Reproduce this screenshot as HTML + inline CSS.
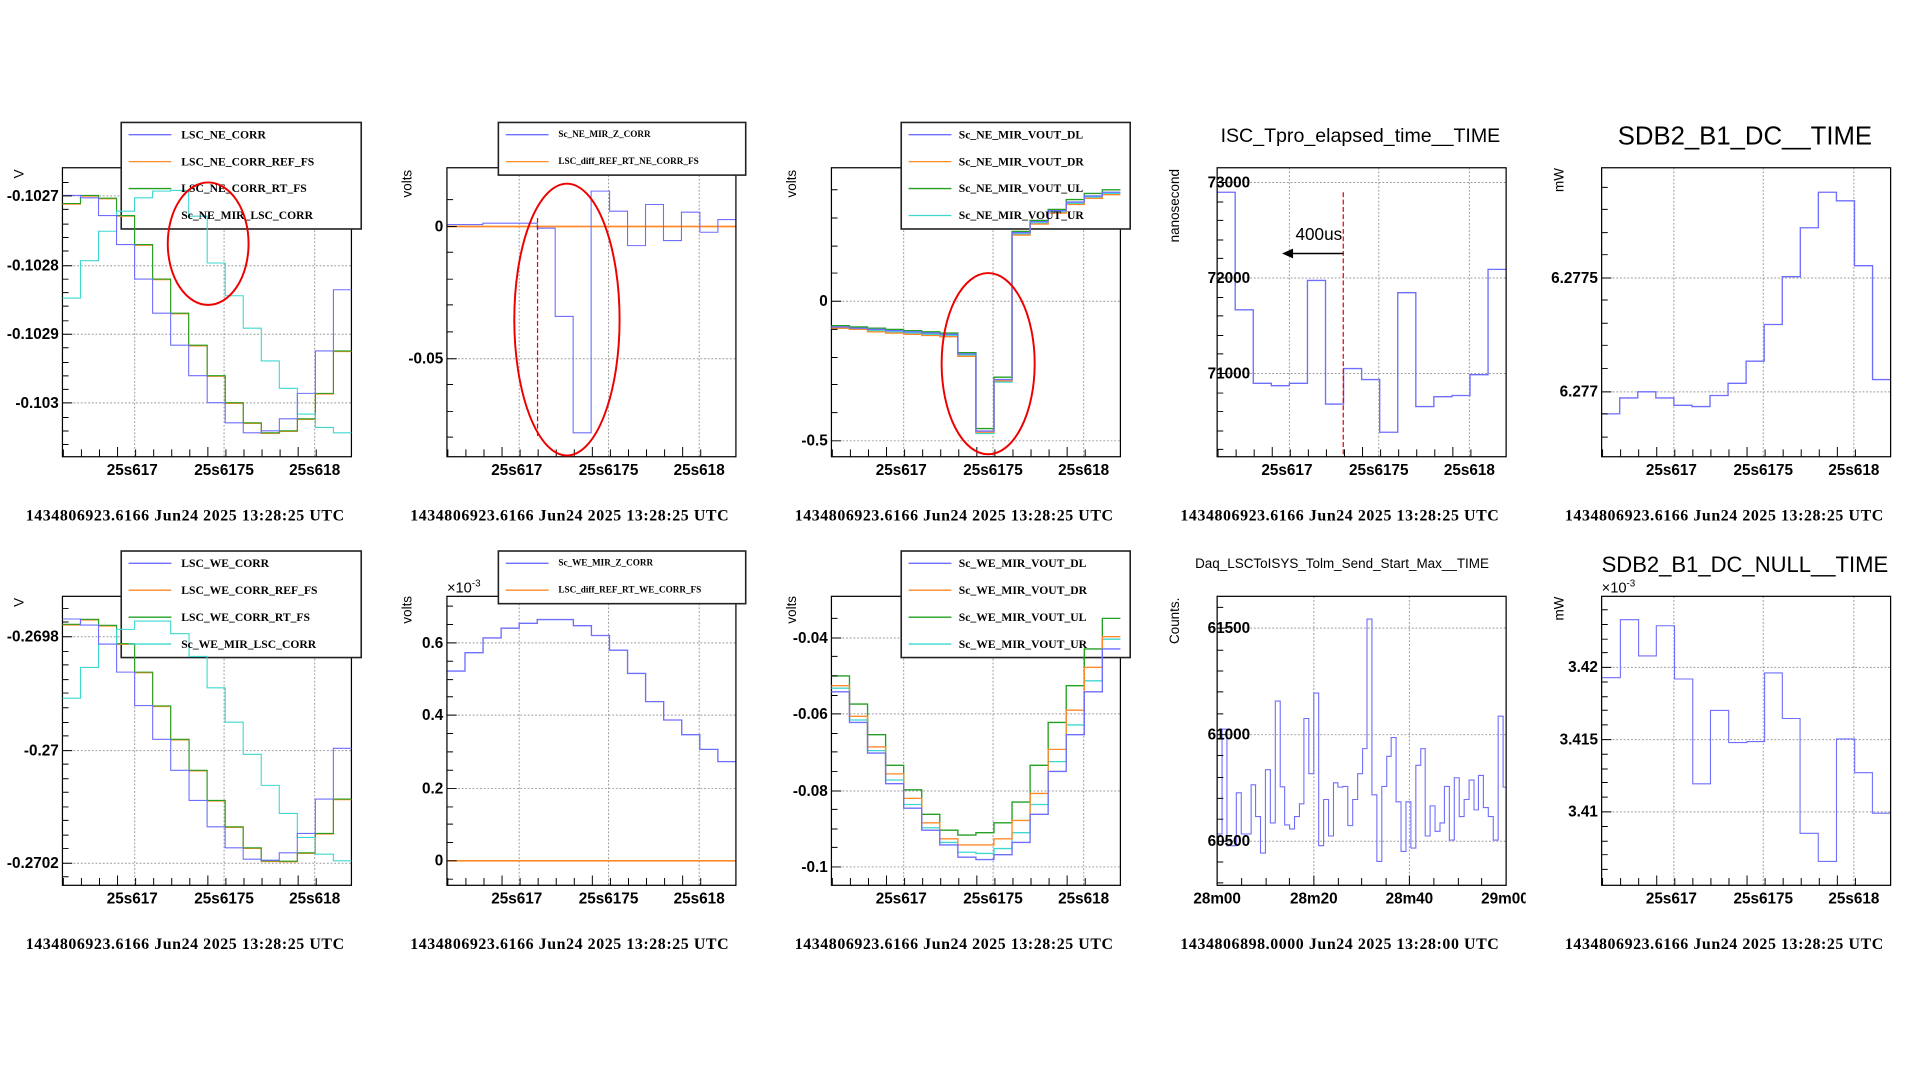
<!DOCTYPE html>
<html><head><meta charset="utf-8"><style>
html,body{margin:0;padding:0;background:#fff;width:1920px;height:1080px;overflow:hidden}
svg{display:block}
.ax{font-family:"Liberation Sans",sans-serif;font-weight:bold;font-size:12.5px;fill:#000}
.yl{font-family:"Liberation Sans",sans-serif;font-size:11px;fill:#000}
.ds{font-family:"Liberation Serif",serif;font-weight:bold;font-size:13px;fill:#000}
.lg{font-family:"Liberation Serif",serif;font-weight:bold;font-size:9.5px;fill:#000}
.lgs{font-family:"Liberation Serif",serif;font-weight:bold;font-size:7.5px;fill:#000}
.fr{fill:none;stroke:#000;stroke-width:1}
.lb{fill:#fff;stroke:#222;stroke-width:1.3}
.gd{stroke:#999;stroke-width:.8;stroke-dasharray:1.5 1.5}
.b{fill:none;stroke:#6f6fff;stroke-width:1.1}
.o{fill:none;stroke:#ff8a2a;stroke-width:1.1}
.g{fill:none;stroke:#23a023;stroke-width:1.1}
.c{fill:none;stroke:#3ed8d0;stroke-width:1.1}
.ns{vector-effect:non-scaling-stroke}
.tk{stroke:#000;stroke-width:.8}
</style></head><body>
<svg width="1920" height="1080" viewBox="0 0 1568 882" xmlns="http://www.w3.org/2000/svg">
<defs>
<g id="bt"><path class="tk" d="M65.75 0v-6M80.5 0v-6M95.25 0v-6M110 0v-8M124.75 0v-6M139.5 0v-6M154.25 0v-6M169 0v-6M183.75 0v-8M198.5 0v-6M213.25 0v-6M228 0v-6M242.75 0v-6M257.5 0v-8M272.25 0v-6"/></g>
</defs>

<!-- ============ ROW 1 ============ -->
<!-- Panel 1 -->
<line class="gd" x1="110" y1="137" x2="110" y2="373"/><line class="gd" x1="183" y1="137" x2="183" y2="373"/><line class="gd" x1="257" y1="137" x2="257" y2="373"/>
<line class="gd" x1="51" y1="160" x2="287" y2="160"/><line class="gd" x1="51" y1="217" x2="287" y2="217"/><line class="gd" x1="51" y1="273" x2="287" y2="273"/><line class="gd" x1="51" y1="329" x2="287" y2="329"/>
<rect class="fr" x="51" y="137" width="236" height="236"/>
<rect class="lb" x="99" y="100" width="196" height="87"/>
<g transform="translate(-0.74,89.2) scale(0.398,0.273)">
<path class="o ns" d="M130 284 H167 V260 H204 V268 H241 V320 H278 V407 H315 V510 H352 V612 H389 V708 H427 V799 H464 V880 H501 V940 H538 V970 H575 V964 H612 V928 H649 V852 H686 V725 H723"/>
<path class="g ns" d="M130 282 H167 V258 H204 V266 H241 V318 H278 V405 H315 V508 H352 V610 H389 V706 H427 V797 H464 V878 H501 V938 H538 V968 H575 V962 H612 V926 H649 V850 H686 V723 H723"/>
<path class="c ns" d="M130 565 H167 V453 H204 V365 H241 V305 H278 V265 H315 V245 H352 V243 H389 V320 H427 V460 H464 V558 H501 V655 H538 V753 H575 V835 H612 V912 H649 V952 H686 V968 H723"/>
<path class="b ns" d="M130 258 H167 V265 H204 V318 H241 V405 H278 V508 H315 V610 H352 V706 H389 V797 H427 V878 H464 V938 H501 V968 H538 V962 H575 V926 H612 V850 H649 V723 H686 V540 H723"/>
</g>
<use href="#bt" transform="translate(-14,373)"/>
<path class="tk" d="M51 149h5M51 160h8M51 171h5M51 183h5M51 194h5M51 205h5M51 217h8M51 228h5M51 239h5M51 250h5M51 262h5M51 273h8M51 284h5M51 296h5M51 307h5M51 318h5M51 329h8M51 341h5M51 352h5M51 363h5"/>
<text class="ax" x="48" y="164" text-anchor="end">-0.1027</text>
<text class="ax" x="48" y="221" text-anchor="end">-0.1028</text>
<text class="ax" x="48" y="277" text-anchor="end">-0.1029</text>
<text class="ax" x="48" y="333" text-anchor="end">-0.103</text>
<text class="yl" transform="translate(19,142) rotate(-90)" text-anchor="middle">V</text>
<text class="ax" x="108" y="388" text-anchor="middle">25s617</text><text class="ax" x="183" y="388" text-anchor="middle">25s6175</text><text class="ax" x="257" y="388" text-anchor="middle">25s618</text>
<line class="b" x1="105" y1="110" x2="140" y2="110"/><text class="lg" x="148" y="113">LSC_NE_CORR</text>
<line class="o" x1="105" y1="132" x2="140" y2="132"/><text class="lg" x="148" y="135">LSC_NE_CORR_REF_FS</text>
<line class="g" x1="105" y1="154" x2="140" y2="154"/><text class="lg" x="148" y="157">LSC_NE_CORR_RT_FS</text>
<text class="lg" x="148" y="179">Sc_NE_MIR_LSC_CORR</text>
<ellipse cx="170" cy="199" rx="33" ry="50" fill="none" stroke="#e00" stroke-width="1.6"/>
<text class="ds" x="151" y="425" text-anchor="middle" textLength="260">1434806923.6166 Jun24 2025 13:28:25 UTC</text>

<!-- Panel 2 -->
<line class="gd" x1="424" y1="137" x2="424" y2="373"/><line class="gd" x1="497" y1="137" x2="497" y2="373"/><line class="gd" x1="571" y1="137" x2="571" y2="373"/>
<line class="gd" x1="365" y1="185" x2="601" y2="185"/><line class="gd" x1="365" y1="293" x2="601" y2="293"/>
<line x1="365" y1="185" x2="601" y2="185" stroke="#ff8a2a" stroke-width="1.4"/>
<g transform="translate(-0.7,89.2) scale(0.3966,0.273)">
<path class="b ns" d="M922 345 H996 V341 H1108 V356 H1145 V620 H1182 V968 H1219 V245 H1257 V305 H1294 V408 H1331 V285 H1368 V393 H1405 V308 H1443 V368 H1480 V330 H1517"/>
</g>
<line x1="439" y1="178" x2="439" y2="357" stroke="#e00" stroke-width="1" stroke-dasharray="4 2"/>
<rect class="fr" x="365" y="137" width="236" height="236"/>
<use href="#bt" transform="translate(300,373)"/>
<path class="tk" d="M365 163h5M365 185h8M365 206h5M365 228h5M365 249h5M365 271h5M365 293h8M365 314h5M365 336h5M365 357h5"/>
<text class="ax" x="362" y="189" text-anchor="end">0</text>
<text class="ax" x="362" y="297" text-anchor="end">-0.05</text>
<text class="yl" transform="translate(336,150) rotate(-90)" text-anchor="middle">volts</text>
<text class="ax" x="422" y="388" text-anchor="middle">25s617</text><text class="ax" x="497" y="388" text-anchor="middle">25s6175</text><text class="ax" x="571" y="388" text-anchor="middle">25s618</text>
<rect class="lb" x="407" y="100" width="202" height="43"/>
<line class="b" x1="413" y1="110" x2="448" y2="110"/><text class="lgs" x="456" y="112">Sc_NE_MIR_Z_CORR</text>
<line class="o" x1="413" y1="132" x2="448" y2="132"/><text class="lgs" x="456" y="134">LSC_diff_REF_RT_NE_CORR_FS</text>
<ellipse cx="463" cy="261" rx="43" ry="111" fill="none" stroke="#e00" stroke-width="1.6"/>
<text class="ds" x="465" y="425" text-anchor="middle" textLength="260">1434806923.6166 Jun24 2025 13:28:25 UTC</text>

<!-- Panel 3 -->
<line class="gd" x1="738" y1="137" x2="738" y2="373"/><line class="gd" x1="811" y1="137" x2="811" y2="373"/><line class="gd" x1="885" y1="137" x2="885" y2="373"/>
<line class="gd" x1="679" y1="246" x2="915" y2="246"/><line class="gd" x1="679" y1="360" x2="915" y2="360"/>
<rect class="fr" x="679" y="137" width="236" height="236"/>
<rect class="lb" x="736" y="100" width="187" height="87"/>
<path class="c" d="M679 268 H693.75 V269 H708.5 V270 H723.25 V271 H738 V272 H752.75 V273 H767.5 V274 H782.25 V290 H797 V354 H811.75 V312 H826.5 V191 H841.25 V182 H856 V173 H870.75 V166 H885.5 V161 H900.25 V158 H915"/>
<path class="g" d="M679 266 H693.75 V267 H708.5 V268 H723.25 V269 H738 V270 H752.75 V271 H767.5 V272 H782.25 V288 H797 V350 H811.75 V308 H826.5 V189 H841.25 V180 H856 V171 H870.75 V163 H885.5 V158 H900.25 V155 H915"/>
<path class="o" d="M679 268 H693.75 V269 H708.5 V271 H723.25 V272 H738 V273 H752.75 V274 H767.5 V275 H782.25 V291 H797 V353 H811.75 V311 H826.5 V192 H841.25 V183 H856 V174 H870.75 V167 H885.5 V162 H900.25 V159 H915"/>
<path class="b" d="M679 267 H693.75 V268 H708.5 V269 H723.25 V270 H738 V271 H752.75 V272 H767.5 V273 H782.25 V289 H797 V352 H811.75 V310 H826.5 V190 H841.25 V181 H856 V172 H870.75 V165 H885.5 V160 H900.25 V157 H915"/>
<use href="#bt" transform="translate(614,373)"/>
<path class="tk" d="M679 155h5M679 178h5M679 201h5M679 223h5M679 246h8M679 269h5M679 292h5M679 314h5M679 337h5M679 360h8"/>
<text class="ax" x="676" y="250" text-anchor="end">0</text>
<text class="ax" x="676" y="364" text-anchor="end">-0.5</text>
<text class="yl" transform="translate(650,150) rotate(-90)" text-anchor="middle">volts</text>
<text class="ax" x="736" y="388" text-anchor="middle">25s617</text><text class="ax" x="811" y="388" text-anchor="middle">25s6175</text><text class="ax" x="885" y="388" text-anchor="middle">25s618</text>
<line class="b" x1="742" y1="110" x2="777" y2="110"/><text class="lg" x="783" y="113">Sc_NE_MIR_VOUT_DL</text>
<line class="o" x1="742" y1="132" x2="777" y2="132"/><text class="lg" x="783" y="135">Sc_NE_MIR_VOUT_DR</text>
<line class="g" x1="742" y1="154" x2="777" y2="154"/><text class="lg" x="783" y="157">Sc_NE_MIR_VOUT_UL</text>
<line class="c" x1="742" y1="176" x2="777" y2="176"/><text class="lg" x="783" y="179">Sc_NE_MIR_VOUT_UR</text>
<ellipse cx="807" cy="297" rx="38" ry="74" fill="none" stroke="#e00" stroke-width="1.6"/>
<text class="ds" x="779" y="425" text-anchor="middle" textLength="260">1434806923.6166 Jun24 2025 13:28:25 UTC</text>

<!-- Panel 4 -->
<text x="1111" y="116" text-anchor="middle" font-family="Liberation Sans,sans-serif" font-size="16">ISC_Tpro_elapsed_time__TIME</text>
<line class="gd" x1="1053" y1="137" x2="1053" y2="373"/><line class="gd" x1="1126" y1="137" x2="1126" y2="373"/><line class="gd" x1="1200" y1="137" x2="1200" y2="373"/>
<line class="gd" x1="994" y1="149" x2="1230" y2="149"/><line class="gd" x1="994" y1="227" x2="1230" y2="227"/><line class="gd" x1="994" y1="305" x2="1230" y2="305"/>
<path class="b" d="M994 157 H1008.75 V253 H1023.5 V313 H1038.25 V315 H1053 V313 H1067.75 V229 H1082.5 V330 H1097.25 V301 H1112 V310 H1126.75 V353 H1141.5 V239 H1156.25 V332 H1171 V324 H1185.75 V323 H1200.5 V306 H1215.25 V220 H1230"/>
<line x1="1097" y1="157" x2="1097" y2="373" stroke="#e00" stroke-width="1" stroke-dasharray="4 2"/>
<line x1="1097" y1="207" x2="1055" y2="207" stroke="#000" stroke-width="1.2"/><path d="M1047 207 l9 -4 v8z" fill="#000"/>
<text x="1058" y="196" font-family="Liberation Sans,sans-serif" font-size="14">400us</text>
<rect class="fr" x="994" y="137" width="236" height="236"/>
<use href="#bt" transform="translate(929,373)"/>
<path class="tk" d="M994 149h8M994 165h5M994 180h5M994 196h5M994 211h5M994 227h8M994 243h5M994 258h5M994 274h5M994 289h5M994 305h8M994 321h5M994 336h5M994 352h5M994 367h5"/>
<text class="ax" x="1021" y="153" text-anchor="end">73000</text>
<text class="ax" x="1021" y="231" text-anchor="end">72000</text>
<text class="ax" x="1021" y="309" text-anchor="end">71000</text>
<text class="yl" transform="translate(963,168) rotate(-90)" text-anchor="middle">nanosecond</text>
<text class="ax" x="1051" y="388" text-anchor="middle">25s617</text><text class="ax" x="1126" y="388" text-anchor="middle">25s6175</text><text class="ax" x="1200" y="388" text-anchor="middle">25s618</text>
<text class="ds" x="1094" y="425" text-anchor="middle" textLength="260">1434806923.6166 Jun24 2025 13:28:25 UTC</text>

<!-- Panel 5 -->
<text x="1425" y="118" text-anchor="middle" font-family="Liberation Sans,sans-serif" font-size="21">SDB2_B1_DC__TIME</text>
<line class="gd" x1="1367" y1="137" x2="1367" y2="373"/><line class="gd" x1="1440" y1="137" x2="1440" y2="373"/><line class="gd" x1="1514" y1="137" x2="1514" y2="373"/>
<line class="gd" x1="1308" y1="227" x2="1544" y2="227"/><line class="gd" x1="1308" y1="320" x2="1544" y2="320"/>
<path class="b" d="M1308 338 H1322.75 V325 H1337.5 V320 H1352.25 V325 H1367 V331 H1381.75 V332 H1396.5 V323 H1411.25 V313 H1426 V295 H1440.75 V265 H1455.5 V226 H1470.25 V186 H1485 V157 H1499.75 V164 H1514.5 V217 H1529.25 V310 H1544"/>
<rect class="fr" x="1308" y="137" width="236" height="236"/>
<use href="#bt" transform="translate(1243,373)"/>
<path class="tk" d="M1308 153h5M1308 171h5M1308 190h5M1308 208h5M1308 227h8M1308 245h5M1308 264h5M1308 282h5M1308 301h5M1308 320h8M1308 338h5M1308 357h5"/>
<text class="ax" x="1305" y="231" text-anchor="end">6.2775</text>
<text class="ax" x="1305" y="324" text-anchor="end">6.277</text>
<text class="yl" transform="translate(1277,147) rotate(-90)" text-anchor="middle">mW</text>
<text class="ax" x="1365" y="388" text-anchor="middle">25s617</text><text class="ax" x="1440" y="388" text-anchor="middle">25s6175</text><text class="ax" x="1514" y="388" text-anchor="middle">25s618</text>
<text class="ds" x="1408" y="425" text-anchor="middle" textLength="260">1434806923.6166 Jun24 2025 13:28:25 UTC</text>

<!-- ============ ROW 2 ============ -->
<!-- Panel 1 -->
<line class="gd" x1="110" y1="487" x2="110" y2="723"/><line class="gd" x1="183" y1="487" x2="183" y2="723"/><line class="gd" x1="257" y1="487" x2="257" y2="723"/>
<line class="gd" x1="51" y1="520" x2="287" y2="520"/><line class="gd" x1="51" y1="613" x2="287" y2="613"/><line class="gd" x1="51" y1="705" x2="287" y2="705"/>
<rect class="fr" x="51" y="487" width="236" height="236"/>
<rect class="lb" x="99" y="450" width="196" height="87"/>
<g transform="translate(0,440.6) scale(0.2728,0.2728)">
<path class="o ns" d="M187 256 H241 V241 H295 V259 H349 V314 H403 V399 H457 V500 H511 V600 H566 V693 H620 V783 H674 V862 H728 V925 H782 V964 H836 V965 H890 V940 H944 V882 H998 V779 H1052"/>
<path class="g ns" d="M187 254 H241 V239 H295 V257 H349 V312 H403 V397 H457 V498 H511 V598 H566 V691 H620 V781 H674 V860 H728 V923 H782 V962 H836 V963 H890 V938 H944 V880 H998 V777 H1052"/>
<path class="c ns" d="M187 475 H241 V383 H295 V313 H349 V269 H403 V244 H511 V282 H566 V350 H620 V444 H674 V547 H728 V643 H782 V736 H836 V820 H890 V892 H944 V942 H998 V962 H1052"/>
<path class="b ns" d="M187 238 H241 V256 H295 V313 H349 V397 H403 V497 H457 V598 H511 V691 H566 V781 H620 V860 H674 V923 H728 V957 H782 V960 H836 V938 H890 V880 H944 V777 H998 V625 H1052"/>
</g>
<use href="#bt" transform="translate(-14,723)"/>
<path class="tk" d="M51 497h5M51 508h5M51 520h8M51 532h5M51 543h5M51 555h5M51 566h5M51 578h5M51 590h5M51 601h5M51 613h8M51 624h5M51 636h5M51 647h5M51 659h5M51 670h5M51 682h5M51 693h5M51 705h8M51 716h5"/>
<text class="ax" x="48" y="524" text-anchor="end">-0.2698</text>
<text class="ax" x="48" y="617" text-anchor="end">-0.27</text>
<text class="ax" x="48" y="709" text-anchor="end">-0.2702</text>
<text class="yl" transform="translate(19,492) rotate(-90)" text-anchor="middle">V</text>
<text class="ax" x="108" y="738" text-anchor="middle">25s617</text><text class="ax" x="183" y="738" text-anchor="middle">25s6175</text><text class="ax" x="257" y="738" text-anchor="middle">25s618</text>
<line class="b" x1="105" y1="460" x2="140" y2="460"/><text class="lg" x="148" y="463">LSC_WE_CORR</text>
<line class="o" x1="105" y1="482" x2="140" y2="482"/><text class="lg" x="148" y="485">LSC_WE_CORR_REF_FS</text>
<line class="g" x1="105" y1="504" x2="140" y2="504"/><text class="lg" x="148" y="507">LSC_WE_CORR_RT_FS</text>
<line class="c" x1="105" y1="526" x2="140" y2="526"/><text class="lg" x="148" y="529">Sc_WE_MIR_LSC_CORR</text>
<text class="ds" x="151" y="775" text-anchor="middle" textLength="260">1434806923.6166 Jun24 2025 13:28:25 UTC</text>

<!-- Panel 2 -->
<line class="gd" x1="424" y1="487" x2="424" y2="723"/><line class="gd" x1="497" y1="487" x2="497" y2="723"/><line class="gd" x1="571" y1="487" x2="571" y2="723"/>
<line class="gd" x1="365" y1="525" x2="601" y2="525"/><line class="gd" x1="365" y1="584" x2="601" y2="584"/><line class="gd" x1="365" y1="644" x2="601" y2="644"/>
<line x1="365" y1="703" x2="601" y2="703" stroke="#ff8a2a" stroke-width="1.4"/>
<path class="b" d="M365 548 H379.75 V533 H394.5 V521 H409.25 V513 H424 V509 H438.75 V506 H453.5 V506 H468.25 V511 H483 V519 H497.75 V531 H512.5 V550 H527.25 V573 H542 V588 H556.75 V600 H571.5 V612 H586.25 V622 H601"/>
<rect class="fr" x="365" y="487" width="236" height="236"/>
<use href="#bt" transform="translate(300,723)"/>
<path class="tk" d="M365 495h5M365 510h5M365 525h8M365 540h5M365 555h5M365 569h5M365 584h8M365 599h5M365 614h5M365 629h5M365 644h8M365 659h5M365 673h5M365 688h5M365 703h8M365 718h5"/>
<text class="ax" x="362" y="529" text-anchor="end">0.6</text>
<text class="ax" x="362" y="588" text-anchor="end">0.4</text>
<text class="ax" x="362" y="648" text-anchor="end">0.2</text>
<text class="ax" x="362" y="707" text-anchor="end">0</text>
<text x="365" y="484" font-family="Liberation Sans,sans-serif" font-size="12">×10<tspan font-size="8" dy="-5">-3</tspan></text>
<text class="yl" transform="translate(336,498) rotate(-90)" text-anchor="middle">volts</text>
<text class="ax" x="422" y="738" text-anchor="middle">25s617</text><text class="ax" x="497" y="738" text-anchor="middle">25s6175</text><text class="ax" x="571" y="738" text-anchor="middle">25s618</text>
<rect class="lb" x="407" y="450" width="202" height="43"/>
<line class="b" x1="413" y1="460" x2="448" y2="460"/><text class="lgs" x="456" y="462">Sc_WE_MIR_Z_CORR</text>
<line class="o" x1="413" y1="482" x2="448" y2="482"/><text class="lgs" x="456" y="484">LSC_diff_REF_RT_WE_CORR_FS</text>
<text class="ds" x="465" y="775" text-anchor="middle" textLength="260">1434806923.6166 Jun24 2025 13:28:25 UTC</text>

<!-- Panel 3 -->
<line class="gd" x1="738" y1="487" x2="738" y2="723"/><line class="gd" x1="811" y1="487" x2="811" y2="723"/><line class="gd" x1="885" y1="487" x2="885" y2="723"/>
<line class="gd" x1="679" y1="521" x2="915" y2="521"/><line class="gd" x1="679" y1="583" x2="915" y2="583"/><line class="gd" x1="679" y1="646" x2="915" y2="646"/><line class="gd" x1="679" y1="708" x2="915" y2="708"/>
<rect class="fr" x="679" y="487" width="236" height="236"/>
<rect class="lb" x="736" y="450" width="187" height="87"/>
<path class="c" d="M679 562 H693.75 V588 H708.5 V613 H723.25 V637 H738 V657 H752.75 V676 H767.5 V688 H782.25 V696 H797 V697 H811.75 V693 H826.5 V680 H841.25 V657 H856 V622 H870.75 V592 H885.5 V556 H900.25 V522 H915"/>
<path class="g" d="M679 552 H693.75 V575 H708.5 V600 H723.25 V625 H738 V645 H752.75 V665 H767.5 V678 H782.25 V682 H797 V680 H811.75 V672 H826.5 V655 H841.25 V625 H856 V590 H870.75 V560 H885.5 V530 H900.25 V505 H915"/>
<path class="o" d="M679 560 H693.75 V585 H708.5 V610 H723.25 V632 H738 V652 H752.75 V672 H767.5 V685 H782.25 V690 H797 V690 H811.75 V685 H826.5 V670 H841.25 V648 H856 V612 H870.75 V580 H885.5 V545 H900.25 V520 H915"/>
<path class="b" d="M679 565 H693.75 V590 H708.5 V615 H723.25 V640 H738 V660 H752.75 V678 H767.5 V690 H782.25 V700 H797 V702 H811.75 V698 H826.5 V688 H841.25 V665 H856 V630 H870.75 V600 H885.5 V565 H900.25 V530 H915"/>
<use href="#bt" transform="translate(614,723)"/>
<path class="tk" d="M679 505h5M679 521h8M679 536h5M679 552h5M679 568h5M679 583h8M679 599h5M679 614h5M679 630h5M679 646h8M679 661h5M679 677h5M679 692h5M679 708h8"/>
<text class="ax" x="676" y="525" text-anchor="end">-0.04</text>
<text class="ax" x="676" y="587" text-anchor="end">-0.06</text>
<text class="ax" x="676" y="650" text-anchor="end">-0.08</text>
<text class="ax" x="676" y="712" text-anchor="end">-0.1</text>
<text class="yl" transform="translate(650,498) rotate(-90)" text-anchor="middle">volts</text>
<text class="ax" x="736" y="738" text-anchor="middle">25s617</text><text class="ax" x="811" y="738" text-anchor="middle">25s6175</text><text class="ax" x="885" y="738" text-anchor="middle">25s618</text>
<line class="b" x1="742" y1="460" x2="777" y2="460"/><text class="lg" x="783" y="463">Sc_WE_MIR_VOUT_DL</text>
<line class="o" x1="742" y1="482" x2="777" y2="482"/><text class="lg" x="783" y="485">Sc_WE_MIR_VOUT_DR</text>
<line class="g" x1="742" y1="504" x2="777" y2="504"/><text class="lg" x="783" y="507">Sc_WE_MIR_VOUT_UL</text>
<line class="c" x1="742" y1="526" x2="777" y2="526"/><text class="lg" x="783" y="529">Sc_WE_MIR_VOUT_UR</text>
<text class="ds" x="779" y="775" text-anchor="middle" textLength="260">1434806923.6166 Jun24 2025 13:28:25 UTC</text>

<!-- Panel 4 -->
<text x="1096" y="464" text-anchor="middle" font-family="Liberation Sans,sans-serif" font-size="11">Daq_LSCToISYS_Tolm_Send_Start_Max__TIME</text>
<line class="gd" x1="1073" y1="487" x2="1073" y2="723"/><line class="gd" x1="1151" y1="487" x2="1151" y2="723"/>
<line class="gd" x1="994" y1="513" x2="1230" y2="513"/><line class="gd" x1="994" y1="600" x2="1230" y2="600"/><line class="gd" x1="994" y1="687" x2="1230" y2="687"/>
<g transform="translate(938.8,440.5) scale(0.4027,0.2734)">
<path class="b ns" d="M137 880 H147 V567 H157 V915 H176 V757 H186 V880 H206 V733 H215 V828 H225 V937 H235 V688 H245 V847 H255 V483 H265 V739 H274 V853 H284 V865 H294 V828 H304 V790 H313 V535 H323 V700 H333 V459 H343 V915 H353 V777 H363 V886 H373 V727 H382 V740 H392 V738 H402 V855 H412 V777 H422 V700 H432 V625 H441 V238 H451 V763 H461 V962 H471 V738 H481 V648 H490 V592 H500 V784 H510 V932 H520 V784 H530 V922 H540 V675 H550 V625 H559 V886 H569 V796 H579 V872 H589 V847 H598 V738 H608 V898 H618 V712 H628 V828 H638 V777 H648 V719 H658 V808 H667 V705 H677 V801 H687 V828 H697 V898 H707 V528 H717 V740 H723"/>
</g>
<rect class="fr" x="994" y="487" width="236" height="236"/>
<path class="tk" d="M1014 723v-6M1034 723v-6M1053 723v-6M1073 723v-8M1093 723v-6M1112 723v-6M1132 723v-6M1151 723v-8M1171 723v-6M1191 723v-6M1210 723v-6M994 496h5M994 513h8M994 531h5M994 548h5M994 565h5M994 583h5M994 600h8M994 617h5M994 635h5M994 652h5M994 669h5M994 687h8M994 704h5M994 721h5"/>
<text class="ax" x="1021" y="517" text-anchor="end">61500</text>
<text class="ax" x="1021" y="604" text-anchor="end">61000</text>
<text class="ax" x="1021" y="691" text-anchor="end">60500</text>
<text class="yl" transform="translate(963,507) rotate(-90)" text-anchor="middle">Counts.</text>
<text class="ax" x="994" y="738" text-anchor="middle">28m00</text><text class="ax" x="1073" y="738" text-anchor="middle">28m20</text><text class="ax" x="1151" y="738" text-anchor="middle">28m40</text>
<svg x="1200" y="720" width="46" height="25" overflow="hidden"><text class="ax" x="29" y="18" text-anchor="middle">29m00</text></svg>
<text class="ds" x="1094" y="775" text-anchor="middle" textLength="260">1434806898.0000 Jun24 2025 13:28:00 UTC</text>

<!-- Panel 5 -->
<text x="1425" y="467" text-anchor="middle" font-family="Liberation Sans,sans-serif" font-size="18">SDB2_B1_DC_NULL__TIME</text>
<line class="gd" x1="1367" y1="487" x2="1367" y2="723"/><line class="gd" x1="1440" y1="487" x2="1440" y2="723"/><line class="gd" x1="1514" y1="487" x2="1514" y2="723"/>
<line class="gd" x1="1308" y1="545" x2="1544" y2="545"/><line class="gd" x1="1308" y1="604" x2="1544" y2="604"/><line class="gd" x1="1308" y1="663" x2="1544" y2="663"/>
<g transform="translate(938.2,440.5) scale(0.402,0.2734)">
<path class="b ns" d="M920 413 H958 V240 H995 V348 H1031 V258 H1068 V417 H1105 V730 H1141 V511 H1178 V607 H1215 V604 H1251 V399 H1287 V535 H1323 V878 H1360 V962 H1397 V596 H1434 V697 H1470 V818 H1507"/>
</g>
<rect class="fr" x="1308" y="487" width="236" height="236"/>
<use href="#bt" transform="translate(1243,723)"/>
<path class="tk" d="M1308 498h5M1308 510h5M1308 522h5M1308 533h5M1308 545h8M1308 557h5M1308 569h5M1308 580h5M1308 592h5M1308 604h8M1308 616h5M1308 628h5M1308 639h5M1308 651h5M1308 663h8M1308 675h5M1308 687h5M1308 698h5M1308 710h5"/>
<text class="ax" x="1305" y="549" text-anchor="end">3.42</text>
<text class="ax" x="1305" y="608" text-anchor="end">3.415</text>
<text class="ax" x="1305" y="667" text-anchor="end">3.41</text>
<text x="1308" y="484" font-family="Liberation Sans,sans-serif" font-size="12">×10<tspan font-size="8" dy="-5">-3</tspan></text>
<text class="yl" transform="translate(1277,497) rotate(-90)" text-anchor="middle">mW</text>
<text class="ax" x="1365" y="738" text-anchor="middle">25s617</text><text class="ax" x="1440" y="738" text-anchor="middle">25s6175</text><text class="ax" x="1514" y="738" text-anchor="middle">25s618</text>
<text class="ds" x="1408" y="775" text-anchor="middle" textLength="260">1434806923.6166 Jun24 2025 13:28:25 UTC</text>
</svg>
</body></html>
